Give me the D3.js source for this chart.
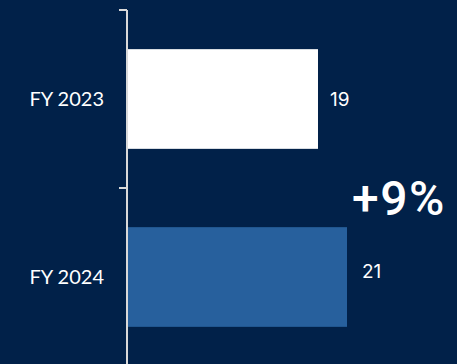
<!DOCTYPE html>
<html>
<head>
<meta charset="utf-8">
<script src="https://cdn.jsdelivr.net/npm/d3@7"></script>
<style>
  html, body { margin: 0; padding: 0; background: #012149; }
  svg { display: block; }
</style>
</head>
<body>
<svg id="chart" width="457" height="364"></svg>
<script>
// Fiscal years and their values
const categories = ["FY 2023", "FY 2024"];
const values = [19, 21];
const valueLabels = ["19", "21"];
const barColors = ["#ffffff", "#27609d"];
const changeLabel = "+9%";

const W = 457, H = 364;
const svg = d3.select("#chart");
svg.append("rect").attr("width", W).attr("height", H).attr("fill", "#012149");

const x = d3.scaleLinear().domain([5.9, 21]).range([128, 347]);
const y = d3.scaleBand().domain(categories).range([10, 366]).paddingInner(0.44).paddingOuter(0.22);

// Bars
svg.selectAll("rect.bar")
  .data(categories)
  .join("rect")
  .attr("class", "bar")
  .attr("x", x.range()[0])
  .attr("y", d => y(d))
  .attr("width", (d, i) => x(values[i]) - x.range()[0])
  .attr("height", y.bandwidth())
  .attr("fill", (d, i) => barColors[i]);

// Category axis with ticks at band boundaries
const axisG = svg.append("g").attr("transform", "translate(127,0)");
axisG.append("line")
  .attr("x1", 0).attr("x2", 0)
  .attr("y1", y.range()[0]).attr("y2", y.range()[1])
  .attr("stroke", "#d9d9d9").attr("stroke-width", 2);
const boundaries = [y.range()[0], y.range()[0] + (y.range()[1] - y.range()[0]) / 2, y.range()[1]];
axisG.selectAll("line.tick")
  .data(boundaries)
  .join("line")
  .attr("class", "tick")
  .attr("x1", -8).attr("x2", 0)
  .attr("y1", d => d).attr("y2", d => d)
  .attr("stroke", "#d9d9d9").attr("stroke-width", 2);

// Category labels
svg.selectAll("text.cat")
  .data(categories)
  .join("text")
  .attr("class", "cat")
  .attr("x", 104)
  .attr("y", d => y(d) + y.bandwidth() / 2)
  .attr("dy", "0.35em")
  .attr("text-anchor", "end")
  .attr("fill", "#ffffff")
  .style("font-family", "Lato, sans-serif")
  .style("font-size", "20px")
  .text(d => d);

// Value labels; the second one sits a little higher and further out
const labelShift = [[12, 0], [15, -5.5]];
svg.selectAll("text.val")
  .data(categories)
  .join("text")
  .attr("class", "val")
  .attr("x", (d, i) => x(values[i]) + labelShift[i][0])
  .attr("y", (d, i) => y(d) + y.bandwidth() / 2 + labelShift[i][1])
  .attr("dy", "0.36em")
  .attr("fill", "#ffffff")
  .style("font-family", "Inter, sans-serif")
  .style("font-size", "19px")
  .text((d, i) => valueLabels[i]);

// Growth annotation, sized to fit the space right of the bars
const growth = svg.append("text")
  .attr("x", 352)
  .attr("y", 215)
  .attr("fill", "#ffffff")
  .style("font-family", "Roboto, sans-serif")
  .style("font-size", "48px")
  .style("font-weight", "500")
  .style("letter-spacing", "1.5px")
  .text(changeLabel);
const avail = 97;
const w0 = growth.node().getComputedTextLength();
if (w0 > avail) {
  growth.style("font-size", (48 * avail / w0).toFixed(1) + "px");
}
</script>
</body>
</html>
